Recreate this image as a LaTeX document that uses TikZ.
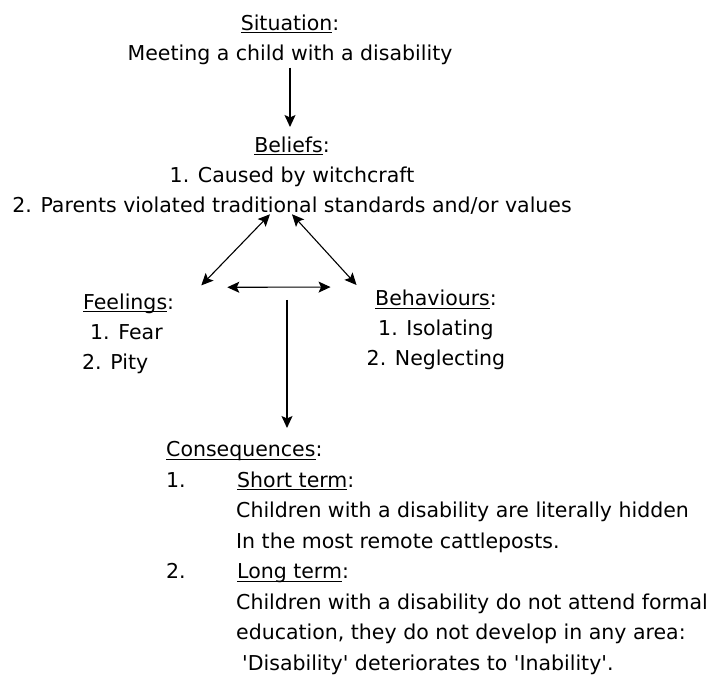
\documentclass[tikz,border=0pt]{standalone}
\usepackage{fontspec}
\setmainfont{DejaVu Sans}
\usepackage{tikz}
\usetikzlibrary{arrows.meta,calc,positioning}

\newcommand{\ulined}[1]{\setbox0\hbox{#1}\rlap{\rule[-3pt]{\wd0}{1pt}}\box0}

\begin{document}
\begin{tikzpicture}[x=1pt,y=1pt,
  >={Stealth[length=12pt,width=11pt,inset=2.5pt]},
  txt/.style={inner sep=0pt, font=\fontsize{20.5}{30}\selectfont},
  oneway/.style={->, line width=1.2pt},
  twoway/.style={<->, line width=1.1pt}]
\useasboundingbox (0,0) rectangle (713,680);
\node[txt, align=center, anchor=north] (sit) at (290,665.5)
  {\ulined{Situation}:\\Meeting a child with a disability};
\node[txt, align=center, anchor=north] (bel) at (292,543.6)
  {\ulined{Beliefs}:\\1. Caused by witchcraft\\2. Parents violated traditional standards and/or values};
\node[txt, align=left, anchor=north west] (feel) at (82,386.6)
  {\hspace*{1pt}\ulined{Feelings}:\\\hspace*{8pt}1. Fear\\2. Pity};
\node[txt, align=center, anchor=north] (beh) at (436,390)
  {\ulined{Behaviours}:\\1. Isolating\\2. Neglecting};
\node[txt, font=\fontsize{20.5}{30.5}\selectfont, align=left, anchor=north west] (cons) at (166,238.6)
  {\ulined{Consequences}:\\
   \makebox[71pt][l]{1.}\ulined{Short term}:\\
   \hspace*{70pt}Children with a disability are literally hidden\\
   \hspace*{70pt}In the most remote cattleposts.\\
   \makebox[71pt][l]{2.}\ulined{Long term}:\\
   \hspace*{70pt}Children with a disability do not attend formal\\
   \hspace*{70pt}education, they do not develop in any area:\\
   \hspace*{76pt}\textquotesingle Disability\textquotesingle{} deteriorates to \textquotesingle Inability\textquotesingle.};
% arrows
\draw[oneway, shorten <=3pt, shorten >=9.4pt] (sit.south) -- (sit.south |- bel.north);
\draw[twoway] ([xshift=-22pt]bel.south) -- ([shift={(27pt,8pt)}]feel.north east);
\draw[twoway] (bel.south) -- ([shift={(-10pt,5pt)}]beh.north west);
\draw[twoway, shorten <=53pt, shorten >=36pt] ([yshift=6pt]feel.north east) -- ([yshift=3pt]beh.north west);
\coordinate (stem) at ([xshift=-5pt]bel.south);
\draw[oneway, shorten <=6.6pt, shorten >=13.4pt] (stem |- feel.north) -- (stem |- cons.north);
\end{tikzpicture}
\end{document}
